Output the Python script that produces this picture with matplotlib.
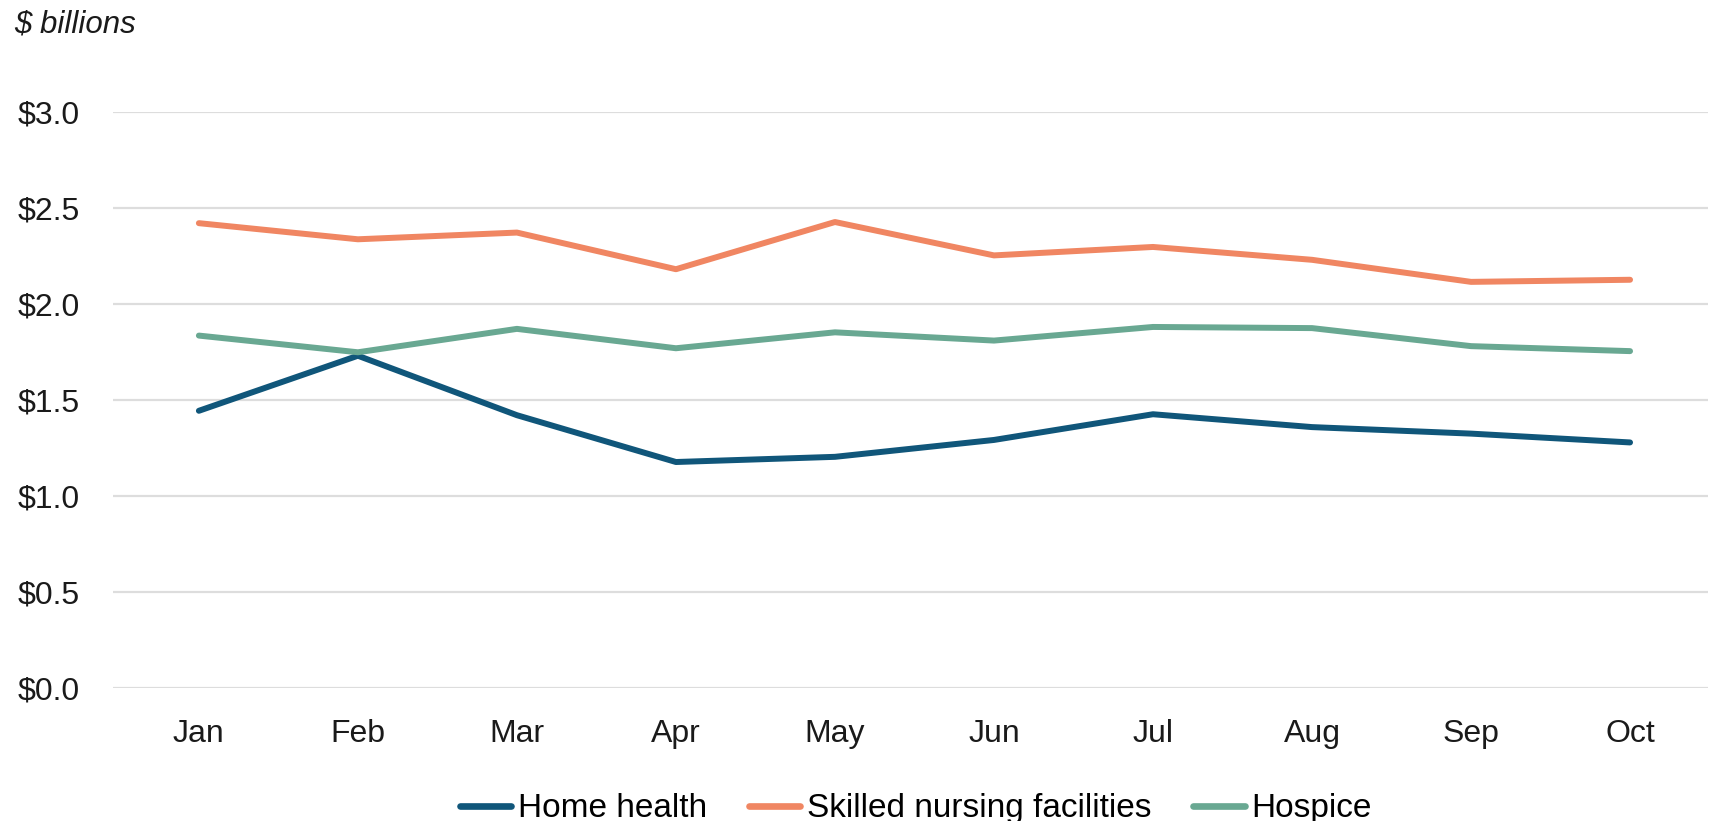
import matplotlib
matplotlib.use("Agg")
import matplotlib.pyplot as plt
import numpy as np

# データ（単位: 10億ドル）
months = ["Jan", "Feb", "Mar", "Apr", "May", "Jun", "Jul", "Aug", "Sep", "Oct"]
home_health = [1.445, 1.732, 1.422, 1.178, 1.205, 1.293, 1.427, 1.360, 1.326, 1.280]
skilled_nursing = [2.423, 2.339, 2.374, 2.183, 2.429, 2.255, 2.299, 2.232, 2.117, 2.128]
hospice = [1.837, 1.750, 1.872, 1.771, 1.854, 1.811, 1.882, 1.876, 1.782, 1.756]

series_names = ["Home health", "Skilled nursing facilities", "Hospice"]
colors = ["#10567A", "#F08662", "#69A892"]
y_ticks = [0.0, 0.5, 1.0, 1.5, 2.0, 2.5, 3.0]

plt.rcParams['font.family'] = ['Liberation Sans', 'DejaVu Sans']

fig = plt.figure(figsize=(17.15, 8.21), dpi=100)
ax = fig.add_axes([0.0659, 0.162, 0.930, 0.701])

x = np.arange(len(months))
for vals, name, c in zip([home_health, skilled_nursing, hospice], series_names, colors):
    ax.plot(x, vals, color=c, lw=4.3, label=name, solid_capstyle='round', zorder=3)

ax.set_xlim(-0.54, 9.49)
ax.set_ylim(0, 3.0)
ax.set_yticks(y_ticks)
ax.set_yticklabels([f"${v:.1f}" for v in y_ticks])
ax.set_xticks(x)
ax.set_xticklabels(months)
ax.tick_params(axis='y', length=0, pad=24, labelsize=23, labelcolor='#1a1a1a')
ax.tick_params(axis='x', length=0, pad=22, labelsize=23, labelcolor='#1a1a1a')

ax.grid(axis='y', color='#DDDDDD', lw=1.6, zorder=0)
ax.set_axisbelow(True)
for s in ax.spines.values():
    s.set_visible(False)

fig.text(0.008, 0.970, "$ billions", fontsize=22.5, style='italic',
         ha='left', va='center', color='#1a1a1a')

leg = fig.legend(loc='center', bbox_to_anchor=(0.534, 0.015), ncol=3, frameon=False,
                 fontsize=24, handlelength=1.55, handletextpad=0.2, columnspacing=1.25)
for h in leg.get_lines():
    h.set_linewidth(4.8)
    h.set_solid_capstyle('round')

fig.savefig("out.png", dpi=100)
